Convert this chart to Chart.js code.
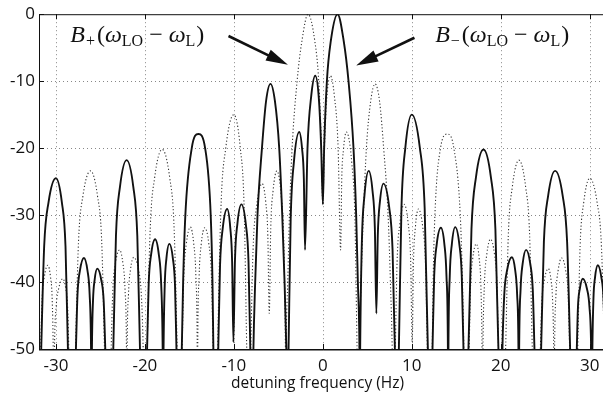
<!DOCTYPE html>
<html>
<head>
<meta charset="utf-8">
<script src="https://cdn.jsdelivr.net/npm/chart.js@4.4.1/dist/chart.umd.min.js"></script>
<style>
  html, body { margin: 0; padding: 0; overflow: hidden; background: #fff; }
  #wrap { position: relative; width: 608px; height: 398px; }
</style>
</head>
<body>
<div id="wrap"><canvas id="chart"></canvas></div>
<script>
// solid trace (dB vs Hz); -58..-70 marks a null below the axis
const solidFreq = [
  -32, -31.65, -31.32, -30.83, -30.0, -29.33, -28.92, -28.65, -28.2,
  -27.75, -27.57, -27.3, -26.85, -26.45, -26.21, -26.05, -26.0,
  -25.95, -25.83, -25.65, -25.35, -24.9, -24.63, -24.45, -24.0,
  -23.55, -23.25, -22.8, -22.05, -21.3, -20.85, -20.55, -20.15,
  -19.75, -19.57, -19.3, -18.85, -18.43, -18.17, -18.0, -17.95,
  -17.9, -17.77, -17.58, -17.25, -16.85, -16.61, -16.45, -16.1,
  -15.85, -15.7, -15.45, -14.73, -13.98, -13.23, -12.6, -12.4, -12.3, -12.05,
  -11.75, -11.55, -11.25, -10.75, -10.4, -10.19, -10.05,
  -9.87, -9.6, -9.15, -8.65, -8.35, -8.15, -7.95,
  -7.8, -7.6, -7.34, -6.84, -6.38, -5.88, -5.38, -4.9, -4.56, -4.3, -4.1, -3.97,
  -3.85, -3.61, -3.25, -2.65, -2.33, -2.13, -2.0,
  -1.72, -1.3, -0.85, -0.45, -0.18, 0.01,
  0.15, 0.46, 0.9, 1.66, 2.35, 2.89, 3.45, 3.75, 3.94, 4.12, 4.16,
  4.2, 4.39, 4.68, 5.16, 5.59, 5.85, 6.02,
  6.18, 6.42, 6.82, 7.46, 7.84, 8.1, 8.3,
  8.55, 8.84, 9.28, 10.0, 10.9, 11.45, 11.81, 12.0,
  12.33, 12.52, 12.8, 13.27, 13.67, 13.9, 14.06, 14.09,
  14.12, 14.27, 14.5, 14.88, 15.35, 15.62, 15.81, 16.09,
  16.37, 16.71, 17.21, 18.06, 18.9, 19.4, 19.74, 19.96,
  20.19, 20.4, 20.72, 21.25, 21.62, 21.84, 21.99, 22.03,
  22.07, 22.23, 22.46, 22.85, 23.32, 23.6, 23.79, 24.17,
  24.54, 24.85, 25.33, 26.11, 26.96, 27.46, 27.8, 28.18,
  28.55, 28.68, 28.89, 29.22, 29.69, 29.97, 30.16, 30.23,
  30.3, 30.42, 30.6, 30.91, 31.31, 31.55, 31.71, 32
];
const solidLevel = [
  -70, -50, -34.7, -28.1, -24.5, -28.1, -34.7, -50, -70,
  -50, -41.8, -38.3, -36.4, -38.3, -41.8, -50, -60,
  -50, -42.8, -39.7, -38.0, -39.7, -42.8, -50, -70,
  -50, -33.1, -25.8, -21.8, -25.8, -33.1, -50, -70,
  -50, -40.2, -35.9, -33.6, -35.9, -40.2, -50, -60,
  -50, -40.6, -36.5, -34.3, -36.5, -40.6, -50, -70,
  -50, -40, -30, -20, -17.9, -20, -30, -40, -50, -70,
  -50, -37.5, -32.0, -29.1, -31.9, -37.1, -49,
  -36.6, -31.3, -28.4, -31.4, -37.0, -50, -65,
  -50, -40, -30, -20, -13.0, -10.4, -13.0, -20, -30, -40, -50, -60,
  -50, -30.6, -22.1, -17.6, -20.1, -24.6, -35.2,
  -20, -12.2, -9.2, -12.5, -20, -28.4,
  -20, -10, -4, 0, -4, -10, -20, -30, -40, -50, -58,
  -50, -34.0, -27.1, -23.4, -26.4, -31.9, -44.7,
  -33.1, -28.0, -25.3, -28.8, -35.2, -50, -65,
  -50, -29.0, -19.9, -15.0, -19.9, -29.0, -50, -70,
  -50, -39.1, -34.4, -31.9, -34.4, -39.1, -50, -60,
  -50, -39.1, -34.4, -31.8, -34.4, -39.1, -50, -70,
  -50, -32.1, -24.4, -20.2, -24.4, -32.1, -50, -70,
  -50, -41.8, -38.2, -36.3, -38.2, -41.8, -50, -60,
  -50, -41.1, -37.3, -35.2, -37.3, -41.1, -50, -70,
  -50, -34.0, -27.1, -23.4, -27.1, -34.0, -50, -70,
  -50, -43.7, -41.0, -39.5, -41.0, -43.7, -50, -60,
  -50, -42.5, -39.3, -37.5, -39.3, -42.5, -50, -70
];

// dotted trace
const dottedFreq = [
  -32, -31.71, -31.55, -31.31, -30.91, -30.6, -30.42, -30.3,
  -30.23, -30.16, -29.97, -29.69, -29.22, -28.89, -28.68, -28.55,
  -28.18, -27.8, -27.46, -26.96, -26.11, -25.33, -24.85, -24.54,
  -24.17, -23.79, -23.6, -23.32, -22.85, -22.46, -22.23, -22.07,
  -22.03, -21.99, -21.84, -21.62, -21.25, -20.72, -20.4, -20.19,
  -19.96, -19.74, -19.4, -18.9, -18.06, -17.21, -16.71, -16.37,
  -16.09, -15.81, -15.62, -15.35, -14.88, -14.5, -14.27, -14.12,
  -14.09, -14.06, -13.9, -13.67, -13.27, -12.8, -12.52, -12.33,
  -12.0, -11.81, -11.45, -10.9, -10.0, -9.28, -8.84, -8.55,
  -8.3, -8.1, -7.84, -7.46, -6.82, -6.42, -6.18,
  -6.02, -5.85, -5.59, -5.16, -4.68, -4.39, -4.2,
  -4.16, -4.12, -3.94, -3.75, -3.45, -2.89, -2.35, -1.66, -0.9, -0.46, -0.15,
  -0.01, 0.18, 0.45, 0.85, 1.3, 1.72,
  2.0, 2.13, 2.33, 2.65, 3.25, 3.61, 3.85,
  3.97, 4.1, 4.3, 4.56, 4.9, 5.38, 5.88, 6.38, 6.84, 7.34, 7.6, 7.8,
  7.95, 8.15, 8.35, 8.65, 9.15, 9.6, 9.87,
  10.05, 10.19, 10.4, 10.75, 11.25, 11.55, 11.75,
  12.05, 12.3, 12.4, 12.6, 13.23, 13.98, 14.73, 15.45, 15.7, 15.85,
  16.1, 16.45, 16.61, 16.85, 17.25, 17.58, 17.77, 17.9,
  17.95, 18.0, 18.17, 18.43, 18.85, 19.3, 19.57, 19.75,
  20.15, 20.55, 20.85, 21.3, 22.05, 22.8, 23.25, 23.55,
  24.0, 24.45, 24.63, 24.9, 25.35, 25.65, 25.83, 25.95,
  26.0, 26.05, 26.21, 26.45, 26.85, 27.3, 27.57, 27.75,
  28.2, 28.65, 28.92, 29.33, 30.0, 30.83, 31.32, 31.65, 32
];
const dottedLevel = [
  -70, -50, -42.5, -39.3, -37.5, -39.3, -42.5, -50,
  -60, -50, -43.7, -41.0, -39.5, -41.0, -43.7, -50,
  -70, -50, -34.0, -27.1, -23.4, -27.1, -34.0, -50,
  -70, -50, -41.1, -37.3, -35.2, -37.3, -41.1, -50,
  -60, -50, -41.8, -38.2, -36.3, -38.2, -41.8, -50,
  -70, -50, -32.1, -24.4, -20.2, -24.4, -32.1, -50,
  -70, -50, -39.1, -34.4, -31.8, -34.4, -39.1, -50,
  -60, -50, -39.1, -34.4, -31.9, -34.4, -39.1, -50,
  -70, -50, -29.0, -19.9, -15.0, -19.9, -29.0, -50,
  -65, -50, -35.2, -28.8, -25.3, -28.0, -33.1,
  -44.7, -31.9, -26.4, -23.4, -27.1, -34.0, -50,
  -58, -50, -40, -30, -20, -10, -4, 0, -4, -10, -20,
  -28.4, -20, -12.5, -9.2, -12.2, -20,
  -35.2, -24.6, -20.1, -17.6, -22.1, -30.6, -50,
  -60, -50, -40, -30, -20, -13.0, -10.4, -13.0, -20, -30, -40, -50,
  -65, -50, -37.0, -31.4, -28.4, -31.3, -36.6,
  -49, -37.1, -31.9, -29.1, -32.0, -37.5, -50,
  -70, -50, -40, -30, -20, -17.9, -20, -30, -40, -50,
  -70, -50, -40.6, -36.5, -34.3, -36.5, -40.6, -50,
  -60, -50, -40.2, -35.9, -33.6, -35.9, -40.2, -50,
  -70, -50, -33.1, -25.8, -21.8, -25.8, -33.1, -50,
  -70, -50, -42.8, -39.7, -38.0, -39.7, -42.8, -50,
  -60, -50, -41.8, -38.3, -36.4, -38.3, -41.8, -50,
  -70, -50, -34.7, -28.1, -24.5, -28.1, -34.7, -50, -70
];

const xTitle = "detuning frequency (Hz)";

// annotation anchors in data units: text start/baseline, arrow tail and tip
const notes = [
  { sub: "+", x: -28.38, y: -4.14, tail: [-10.6, -3.26], tip: [-3.92, -7.55] },
  { sub: "\u2212", x: 12.63, y: -4.14, tail: [10.3, -3.51], tip: [3.75, -7.66] }
];

const toPoints = (xs, ys) => xs.map((x, i) => ({ x, y: ys[i] }));

function drawMath(ctx, x, y, sub) {
  const serif = "'Liberation Serif', 'DejaVu Serif', serif";
  const big = "24px " + serif, it = "italic 24px " + serif, small = "16px " + serif;
  const parts = [
    ["B", it, 0, 0], [sub, small, 4, 1], ["(", big, 0, 2], ["\u03C9", it, 0, 0],
    ["LO", small, 4, 0], ["\u2212", big, 0, 6], ["\u03C9", it, 0, 6],
    ["L", small, 4, 0], [")", big, 0, 1]
  ];
  let total = 0;
  for (const p of parts) { ctx.font = p[1]; p.push(ctx.measureText(p[0]).width); total += p[4] + p[3]; }
  const extra = (134 - total) / (parts.length - 1);
  let cx = x;
  ctx.fillStyle = "#111";
  ctx.textBaseline = "alphabetic";
  ctx.textAlign = "left";
  parts.forEach((p, i) => {
    if (i > 0) cx += p[3] + extra;
    ctx.font = p[1];
    ctx.fillText(p[0], cx, y + p[2]);
    cx += p[4];
  });
}

function drawArrow(ctx, x1, y1, x2, y2) {
  const a = Math.atan2(y2 - y1, x2 - x1);
  const len = 22, half = 6;
  const bx = x2 - len * Math.cos(a), by = y2 - len * Math.sin(a);
  ctx.strokeStyle = "#111";
  ctx.fillStyle = "#111";
  ctx.lineWidth = 2.6;
  ctx.beginPath(); ctx.moveTo(x1, y1); ctx.lineTo(bx + 2 * Math.cos(a), by + 2 * Math.sin(a)); ctx.stroke();
  ctx.beginPath();
  ctx.moveTo(x2, y2);
  ctx.lineTo(bx + half * Math.sin(a), by - half * Math.cos(a));
  ctx.lineTo(bx - half * Math.sin(a), by + half * Math.cos(a));
  ctx.closePath(); ctx.fill();
}

const framePlugin = {
  id: "frame",
  beforeDatasetsDraw(chart) {
    const { ctx, chartArea: a, scales: { x, y } } = chart;
    ctx.save();
    ctx.strokeStyle = "#888";
    ctx.lineWidth = 1;
    ctx.setLineDash([1, 3]);
    x.ticks.forEach(t => {
      const px = Math.round(x.getPixelForValue(t.value)) + 0.5;
      ctx.beginPath(); ctx.moveTo(px, a.top); ctx.lineTo(px, a.bottom); ctx.stroke();
    });
    y.ticks.forEach(t => {
      if (t.value === 0 || t.value === -50) return;
      const py = Math.round(y.getPixelForValue(t.value)) + 0.5;
      ctx.beginPath(); ctx.moveTo(a.left, py); ctx.lineTo(a.right, py); ctx.stroke();
    });
    ctx.restore();
  },
  afterDatasetsDraw(chart) {
    const { ctx, chartArea: a, scales: { x, y } } = chart;
    ctx.save();
    ctx.strokeStyle = "#111";
    ctx.lineWidth = 1;
    ctx.setLineDash([]);
    ctx.strokeRect(a.left + 0.5, a.top + 0.5, a.right - a.left, a.bottom - a.top);
    ctx.beginPath();
    ctx.moveTo(a.left, a.bottom + 1); ctx.lineTo(a.right, a.bottom + 1);
    x.ticks.forEach(t => {
      const px = Math.round(x.getPixelForValue(t.value)) + 0.5;
      ctx.moveTo(px, a.bottom); ctx.lineTo(px, a.bottom - 5);
      ctx.moveTo(px, a.top); ctx.lineTo(px, a.top + 5);
    });
    y.ticks.forEach(t => {
      const py = Math.round(y.getPixelForValue(t.value)) + 0.5;
      ctx.moveTo(a.left, py); ctx.lineTo(a.left + 5, py);
    });
    ctx.stroke();

    notes.forEach(n => {
      drawMath(ctx, x.getPixelForValue(n.x), y.getPixelForValue(n.y), n.sub);
      drawArrow(ctx, x.getPixelForValue(n.tail[0]), y.getPixelForValue(n.tail[1]),
        x.getPixelForValue(n.tip[0]), y.getPixelForValue(n.tip[1]));
    });

    ctx.font = "15.5px 'Open Sans', sans-serif";
    ctx.fillStyle = "#111";
    ctx.textAlign = "center";
    ctx.textBaseline = "middle";
    ctx.fillText(xTitle, 317.5, 383.5);
    ctx.restore();
  }
};

const tickFont = { family: "'Open Sans', sans-serif", size: 17 };

new Chart(document.getElementById("chart"), {
  type: "line",
  data: {
    datasets: [
      {
        label: "solid",
        data: toPoints(solidFreq, solidLevel),
        borderColor: "#111",
        borderWidth: 1.9,
        pointRadius: 0,
        cubicInterpolationMode: "monotone",
        fill: false
      },
      {
        label: "dotted",
        data: toPoints(dottedFreq, dottedLevel),
        borderColor: "#333",
        borderWidth: 1.1,
        borderDash: [1.2, 2.2],
        pointRadius: 0,
        cubicInterpolationMode: "monotone",
        fill: false
      }
    ]
  },
  options: {
    responsive: true,
    maintainAspectRatio: false,
    animation: false,
    devicePixelRatio: 1,
    layout: { padding: { top: 8, right: 0.5, left: 0, bottom: 0 } },
    plugins: { legend: { display: false }, tooltip: { enabled: false } },
    scales: {
      x: {
        type: "linear",
        min: -31.9,
        max: 32,
        grid: { display: false, drawTicks: false },
        border: { display: false },
        ticks: { stepSize: 10, includeBounds: false, padding: 7, font: tickFont, color: "#111", maxRotation: 0 },
        afterFit: s => { s.height = 49; }
      },
      y: {
        min: -50,
        max: 0,
        grid: { display: false, drawTicks: false },
        border: { display: false },
        ticks: { stepSize: 10, padding: 4, font: tickFont, color: "#111" },
        afterFit: s => { s.width = 39; }
      }
    }
  },
  plugins: [framePlugin]
});
</script>
</body>
</html>
